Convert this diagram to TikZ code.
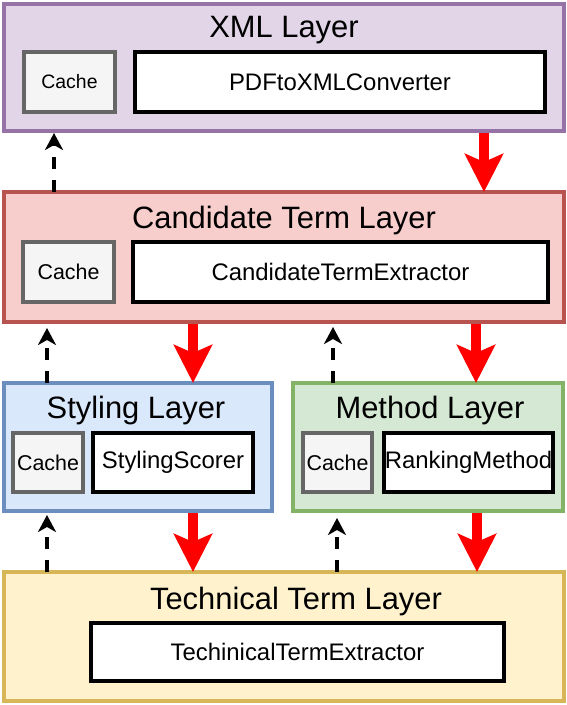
\documentclass[tikz,border=0pt]{standalone}
\usepackage{fontspec}
\setmainfont{Liberation Sans}
\usetikzlibrary{arrows.meta,calc}
\definecolor{xmlF}{HTML}{E1D5E7}\definecolor{xmlD}{HTML}{9673A6}
\definecolor{canF}{HTML}{F8CECC}\definecolor{canD}{HTML}{B85450}
\definecolor{styF}{HTML}{DAE8FC}\definecolor{styD}{HTML}{6C8EBF}
\definecolor{metF}{HTML}{D5E8D4}\definecolor{metD}{HTML}{82B366}
\definecolor{tecF}{HTML}{FFF2CC}\definecolor{tecD}{HTML}{D6B656}
\definecolor{cacF}{HTML}{F5F5F5}\definecolor{cacD}{HTML}{666666}
\begin{document}
\begin{tikzpicture}[x=1bp,y=-1bp,
  layer/.style={rectangle, line width=3.5bp, inner sep=0pt, outer sep=0pt},
  cachebox/.style={rectangle, draw=cacD, fill=cacF, line width=4.5bp, inner sep=0pt, outer sep=0pt, font=\fontsize{21.5}{26}\selectfont},
  compbox/.style={rectangle, draw=black, fill=white, line width=4.5bp, inner sep=0pt, outer sep=0pt, font=\fontsize{24}{28}\selectfont},
  layertitle/.style={anchor=base, inner sep=0pt, font=\fontsize{31}{37}\selectfont},
  flow/.style={draw=red, line width=9.5bp, -{Stealth[length=38bp,width=38bp,inset=8bp]}},
  back/.style={draw=black, line width=4bp, dash pattern=on 12bp off 11bp, -{Stealth[length=17bp,width=18bp,inset=5bp]}}
]
\useasboundingbox (0,0) rectangle (567,705);
% layers
\node[layer, draw=xmlD, fill=xmlF, minimum width=560bp, minimum height=127bp] (xml) at (284,67.5) {};
\node[layer, draw=canD, fill=canF, minimum width=560bp, minimum height=130bp] (cand) at (284,257) {};
\node[layer, draw=styD, fill=styF, minimum width=268bp, minimum height=128bp] (sty) at (138,447) {};
\node[layer, draw=metD, fill=metF, minimum width=270bp, minimum height=128bp] (met) at (428,447) {};
\node[layer, draw=tecD, fill=tecF, minimum width=560bp, minimum height=129bp] (tech) at (284,636.5) {};
% titles
\node[layertitle] (xmlT) at (284,38) {XML Layer};
\node[layertitle] (candT) at (284,228) {Candidate Term Layer};
\node[layertitle] (styT) at (136,418) {Styling Layer};
\node[layertitle] (metT) at (430,418) {Method Layer};
\node[layertitle] (techT) at (296,609) {Technical Term Layer};
% components
\node[cachebox, minimum width=91bp, minimum height=60bp, font=\fontsize{19.5}{24}\selectfont] (xmlC) at (69.5,82) {Cache};
\node[compbox, minimum width=410bp, minimum height=60bp] (pdf) at (340,82) {PDFtoXMLConverter};
\node[cachebox, minimum width=91bp, minimum height=60bp] (candC) at (68.5,272) {Cache};
\node[compbox, minimum width=415bp, minimum height=60bp] (cte) at (340.5,272) {CandidateTermExtractor};
\node[cachebox, minimum width=70bp, minimum height=59bp] (styC) at (48,462.5) {Cache};
\node[compbox, minimum width=160bp, minimum height=59bp] (ss) at (173,462.5) {StylingScorer};
\node[cachebox, minimum width=69bp, minimum height=59bp] (metC) at (337.5,462.5) {Cache};
\node[compbox, minimum width=169bp, minimum height=59bp] (rm) at (468.5,462.5) {RankingMethod};
\node[compbox, minimum width=413bp, minimum height=58bp] (tte) at (297.5,652) {TechinicalTermExtractor};
% columns
\coordinate (r484) at (484,0);
\coordinate (r193) at (193,0);
\coordinate (r476) at (476,0);
\coordinate (r477) at (477,0);
\coordinate (d54) at (54,0);
\coordinate (d47) at (47,0);
\coordinate (d333) at (333,0);
\coordinate (d337) at (337,0);
% arrows
\draw[flow] ($(xml.south -| r484)+(0,2)$) -- (cand.north -| r484);
\draw[back] (cand.north -| d54) -- ($(xml.south -| d54)+(0,2)$);
\draw[flow] ($(cand.south -| r193)+(0,2)$) -- (sty.north -| r193);
\draw[back] (sty.north -| d47) -- ($(cand.south -| d47)+(0,6)$);
\draw[flow] ($(cand.south -| r476)+(0,2)$) -- (met.north -| r476);
\draw[back] (met.north -| d333) -- ($(cand.south -| d333)+(0,5)$);
\draw[flow] ($(sty.south -| r193)+(0,2)$) -- (tech.north -| r193);
\draw[back] (tech.north -| d47) -- ($(sty.south -| d47)+(0,4)$);
\draw[flow] ($(met.south -| r477)+(0,2)$) -- (tech.north -| r477);
\draw[back] (tech.north -| d337) -- ($(met.south -| d337)+(0,7)$);
\end{tikzpicture}
\end{document}
